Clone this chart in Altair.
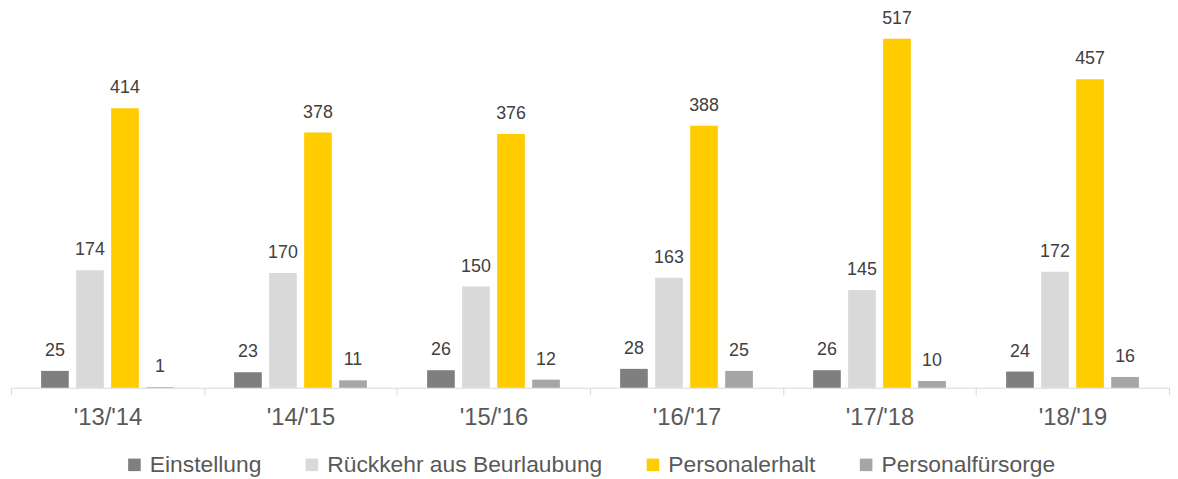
import altair as alt
import pandas as pd

years = ["'13/'14", "'14/'15", "'15/'16", "'16/'17", "'17/'18", "'18/'19"]
series = ["Einstellung", "Rückkehr aus Beurlaubung", "Personalerhalt", "Personalfürsorge"]
colors = ["#7f7f7f", "#d9d9d9", "#ffcc00", "#a6a6a6"]
einstellung = [25, 23, 26, 28, 26, 24]
rueckkehr = [174, 170, 150, 163, 145, 172]
erhalt = [414, 378, 376, 388, 517, 457]
fuersorge = [1, 11, 12, 25, 10, 16]

rows = []
for name, vals in zip(series, [einstellung, rueckkehr, erhalt, fuersorge]):
    for y, v in zip(years, vals):
        rows.append({"Jahr": y, "Kategorie": name, "Wert": v})
df = pd.DataFrame(rows)

FONT = "Liberation Sans"

x = alt.X("Jahr:N", sort=years, title=None,
          scale=alt.Scale(paddingInner=0, paddingOuter=0),
          axis=alt.Axis(labelAngle=0, labelFontSize=24, labelColor="#595959", labelFont=FONT,
                        tickBand="extent", tickSize=7, tickColor="#d9d9d9",
                        domainColor="#d9d9d9", labelPadding=11))
xo = alt.XOffset("Kategorie:N", sort=series,
                 scale=alt.Scale(paddingInner=0.21, paddingOuter=0.86))
y = alt.Y("Wert:Q", scale=alt.Scale(domain=[0, 517], nice=False, zero=True), axis=None)

bars = alt.Chart(df).mark_bar().encode(
    x=x, xOffset=xo, y=y,
    color=alt.Color("Kategorie:N", sort=series,
                    scale=alt.Scale(domain=series, range=colors),
                    legend=alt.Legend(title=None, orient="none", direction="horizontal",
                                      legendX=113, legendY=418, labelLimit=400,
                                      labelFontSize=23, labelColor="#595959", labelFont=FONT,
                                      symbolType="square", symbolSize=160, symbolStrokeWidth=0,
                                      columnPadding=39, labelOffset=4)),
)

labels = alt.Chart(df).mark_text(dy=-20, fontSize=18, color="#404040", font=FONT,
                                 baseline="middle").encode(
    x=x, xOffset=xo, y=y, text=alt.Text("Wert:Q"),
)

chart = alt.layer(bars, labels).properties(
    width=1168, height=352,
    padding={"left": 2, "top": 0, "right": 0, "bottom": 0},
).configure(background="white").configure_view(strokeWidth=0)

chart.save("out.html", embed_options={"renderer": "svg", "actions": False})
